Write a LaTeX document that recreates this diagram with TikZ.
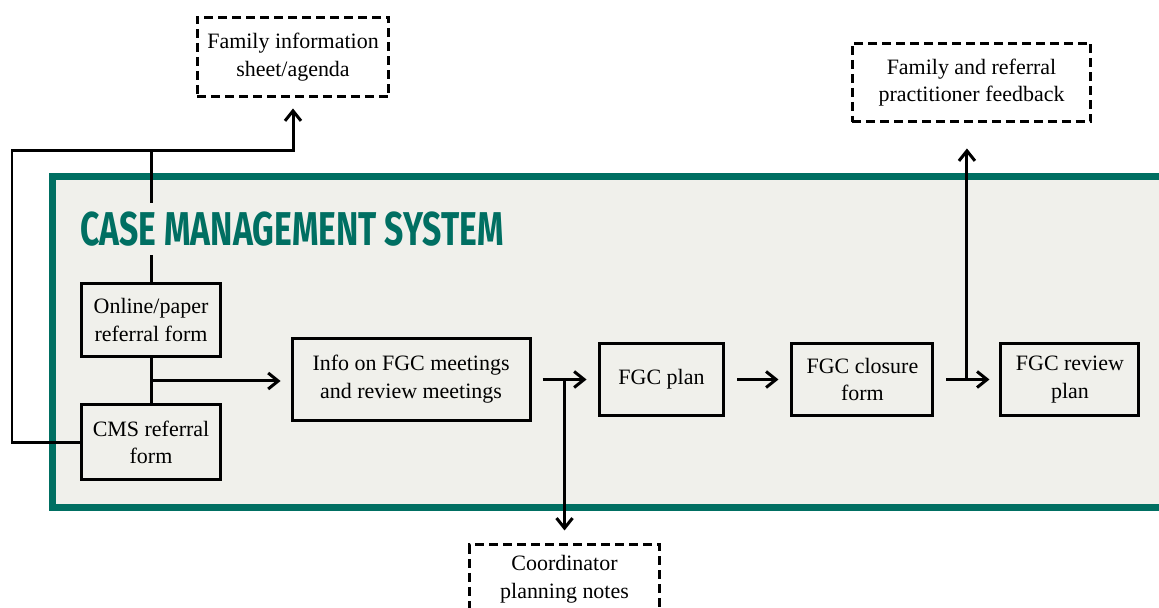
\documentclass[tikz,border=0pt]{standalone}
\usepackage{fontspec}
\setmainfont{Liberation Serif}
\newfontfamily\titlefont{Fira Sans}[FakeStretch=0.71]
\usetikzlibrary{arrows.meta, positioning, calc}
\definecolor{CMSgreen}{RGB}{0,111,98}
\definecolor{CMSpanel}{RGB}{240,240,235}

\begin{document}
\begin{tikzpicture}[
    x=0.02cm, y=-0.02cm,
    box/.style={rectangle,draw=black,line width=0.06cm,fill=CMSpanel,
                font=\fontsize{12.5}{15.8}\selectfont,align=center,inner sep=2pt},
    notebox/.style={box,fill=white,dash pattern=on 0.18cm off 0.1cm},
    conn/.style={line width=0.06cm},
    arr/.style={conn,-{Straight Barb[length=2mm,width=3.2mm]}}
  ]
  \useasboundingbox (0,0) rectangle (1159,608);
  \clip (0,0) rectangle (1159,608);

  % case management panel
  \draw[draw=CMSgreen,fill=CMSpanel,line width=0.14cm] (52,176) rectangle (1200,507);

  % referral forms
  \node[box,minimum width=2.8cm,minimum height=1.48cm] (online) at (151,320) {Online/paper\\referral form};
  \node[box,minimum width=2.8cm,minimum height=1.5cm,below=0.9cm of online] (cms) {CMS referral\\form};

  % main row
  \node[box,minimum width=2.5cm,minimum height=1.46cm] (plan) at (661.5,379.5) {FGC plan};
  \node[box,minimum width=4.76cm,minimum height=1.66cm,left=1.32cm of plan] (info) {Info on FGC meetings\\and review meetings};
  \node[box,minimum width=2.82cm,minimum height=1.46cm,right=1.3cm of plan] (closure) {FGC closure\\form};
  \node[box,minimum width=2.76cm,minimum height=1.46cm,right=1.3cm of closure] (review) {FGC review\\plan};

  % outputs outside the system
  \node[notebox,minimum width=3.84cm,minimum height=1.6cm] (sheet) at (293,57) {Family information\\sheet/agenda};
  \node[notebox,minimum width=4.78cm,minimum height=1.58cm] (feedback) at (971.5,82.5) {Family and referral\\practitioner feedback};

  \coordinate (loopL) at (12,150);
  \coordinate (j1) at ($(online.south)!0.5!(cms.north)$);
  \coordinate (j2) at ($(info.east)!0.5!(plan.west)$);
  \coordinate (j3) at ($(closure.east)!0.5!(review.west)$);

  \node[notebox,minimum width=3.8cm,minimum height=1.36cm,below=3.28cm of j2] (notes) {Coordinator\\planning notes};

  % connectors
  \draw[arr,shorten >=0.2cm] (cms.west) -| (loopL) -- (loopL -| sheet.south) -- (sheet.south);
  \draw[conn] (online.north) -- (online.north |- loopL);
  \draw[conn] (online.south) -- (cms.north);
  \draw[arr,shorten >=0.2cm] (j1) -- (j1 -| info.west);
  \draw[arr,shorten <=0.22cm,shorten >=0.22cm] (info) -- (plan);
  \draw[arr,shorten >=0.26cm] (j2) -- (notes.north);
  \draw[arr,shorten <=0.24cm,shorten >=0.24cm] (plan) -- (closure);
  \draw[arr,shorten <=0.24cm,shorten >=0.2cm] (closure) -- (review);
  \draw[arr,shorten >=0.5cm] (j3) -- (j3 |- feedback.south);

  % title sits over the feed line
  \node[font=\titlefont\bfseries\fontsize{27}{27}\selectfont,text=CMSgreen,fill=CMSpanel,
        anchor=west,inner xsep=0pt,minimum height=1.06cm] (title) at (80,229) {CASE MANAGEMENT SYSTEM};
\end{tikzpicture}
\end{document}
